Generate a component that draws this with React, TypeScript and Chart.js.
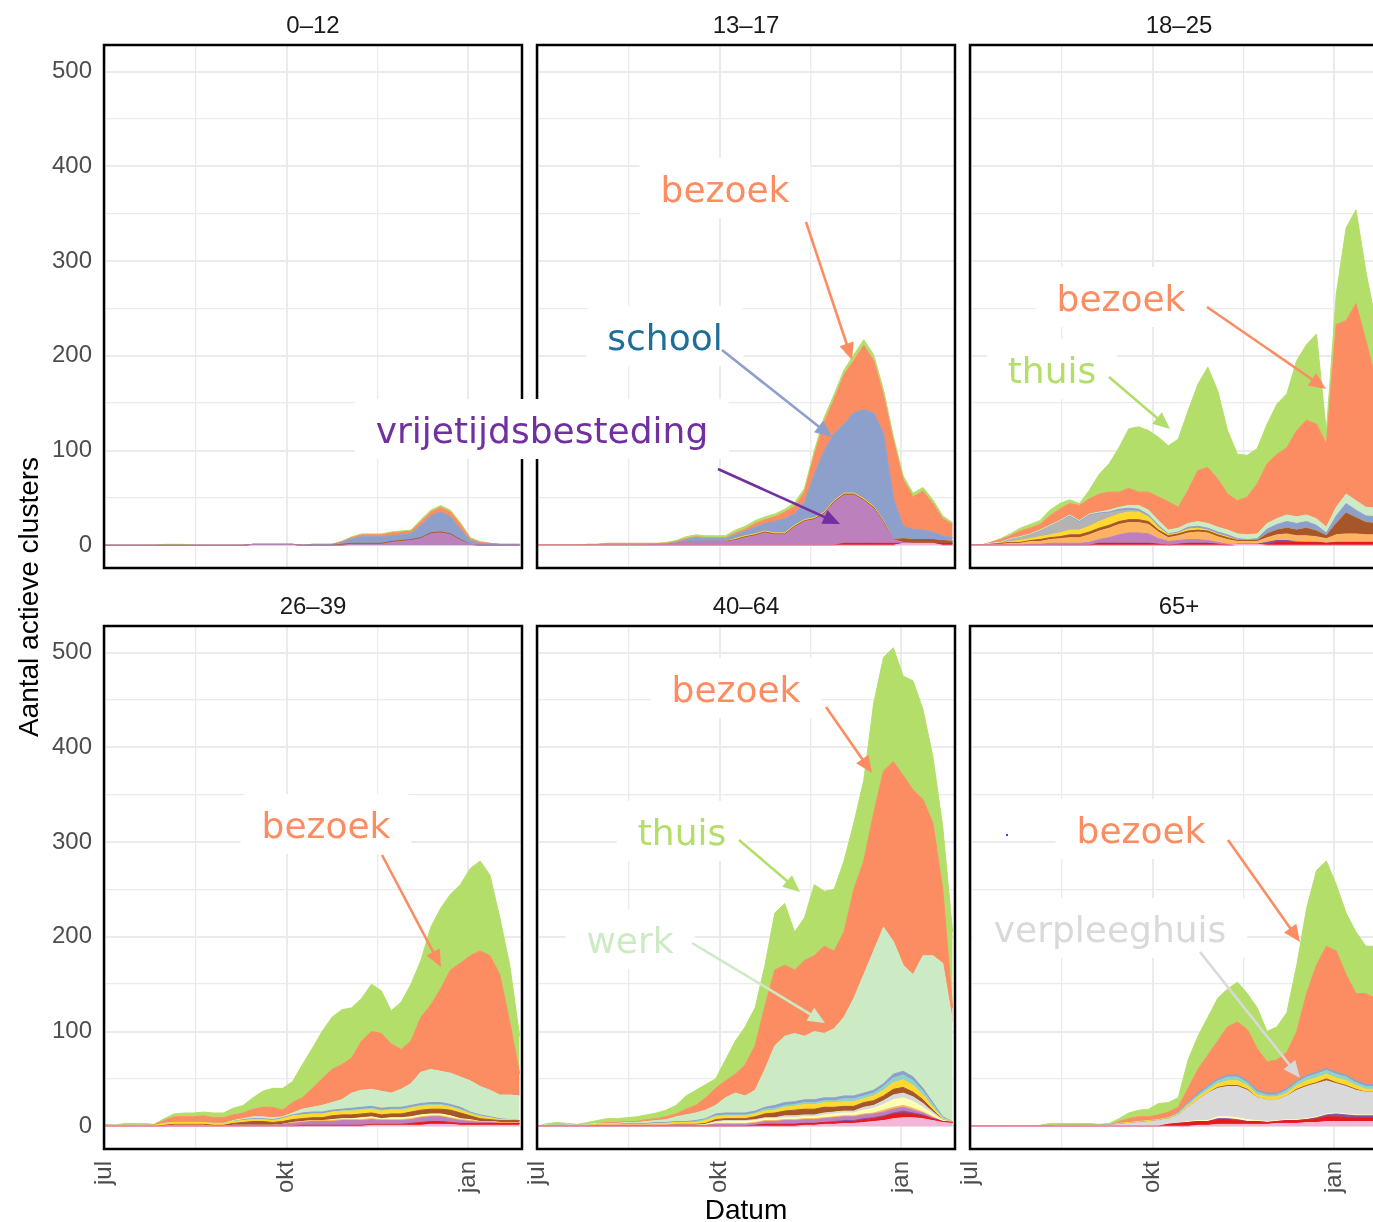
import React, { useEffect, useRef } from 'react';
import { Chart, registerables } from 'chart.js';

Chart.register(...registerables);

// ---------- data ----------
// day index since 1 July (0 = 1 jul, 92 = 1 okt, 184 = 1 jan)
const DAYS = [0,5,10,15,20,25,30,35,40,45,50,55,60,65,70,75,80,85,90,95,100,105,110,115,120,125,130,135,140,145,150,155,160,165,170,175,180,185,190,195,200,205,210];
const X_TICKS = [0, 46, 92, 138, 184];
const X_TICK_LABELS: Record<number, string> = { 0: 'jul', 92: 'okt', 184: 'jan' };
const Y_TICKS = [0, 50, 100, 150, 200, 250, 300, 350, 400, 450, 500];
const PANEL_TITLES = ['0–12', '13–17', '18–25', '26–39', '40–64', '65+'];

const SERIES_KEYS = ['zorg','ziekenhuis','overig','vrijetijdsbesteding','horeca','religie','verpleeghuis','feest','sport','studentenhuis','kinderopvang','school','werk','bezoek','thuis'];
const SERIES_COLORS = ['#F5B5D8','#E41A1C','#8A4EA5','#BC80BD','#FDB462','#FFFFB3','#D9D9D9','#A65628','#FFD92F','#B3B3B3','#8DD3C7','#8DA0CB','#CCEBC5','#FC8D62','#B3DE69'];

// 0–12
const THUIS_0_12 = [0,0,0,0,0,0,1,1,1,0, 0,0,0,0,0,0,0,0,0,0, 0,0,0,0,0,1,1,1,1,1, 1,1,2,2,2,2,2,1,1,0, 0,0,0];
const BEZOEK_0_12 = [0,0,0,0,0,0,0,0,0,0, 0,0,0,0,0,0,0,0,0,0, 0,0,0,0,1,1,2,2,2,3, 3,3,4,4,5,5,5,2,1,0, 0,0,0];
const SCHOOL_0_12 = [0,0,0,0,0,0,0,0,0,0, 0,0,0,0,0,0,0,0,0,0, 0,1,1,1,2,5,7,7,7,6, 6,6,13,18,21,18,11,4,2,2, 1,1,1];
const VRIJE_0_12 = [0,0,0,0,0,0,0,0,0,0, 0,0,0,0,0,1,1,1,1,1, 0,0,0,0,0,1,1,1,1,3, 4,5,7,12,13,11,5,1,0,0, 0,0,0];
const FEEST_0_12 = [0,0,0,0,0,0,0,0,0,0, 0,0,0,0,0,0,0,0,0,0, 0,0,0,0,1,1,1,1,1,1, 1,1,1,1,1,1,1,0,0,0, 0,0,0];

// 13–17
const ZORG_13_17 = [0,0,0,0,0,0,0,0,0,0, 0,0,0,0,0,0,0,0,0,0, 0,0,0,0,0,0,0,0,0,0, 0,0,0,0,0,0,0,2,2,2, 2,0,0];
const ZIEKENHUIS_13_17 = [0,0,0,0,0,0,0,0,0,0, 0,0,0,0,0,0,0,0,0,0, 0,0,0,0,0,0,0,0,0,0, 0,2,2,2,2,2,2,0,0,0, 0,2,2];
const VRIJE_13_17 = [0,0,0,0,0,0,0,0,0,0, 0,0,1,1,2,3,4,4,4,4, 5,8,10,13,11,11,19,25,27,33, 45,51,51,45,37,22,4,1,0,0, 0,0,0];
const FEEST_13_17 = [0,0,0,0,0,0,0,0,0,0, 0,0,0,0,0,0,0,0,0,0, 1,1,1,1,1,1,1,1,1,1, 1,1,1,1,1,1,0,4,4,4, 4,3,2];
const SPORT_13_17 = [0,0,0,0,0,0,0,0,0,0, 0,0,0,0,0,0,0,0,0,0, 1,1,1,1,1,1,1,1,1,1, 1,1,1,1,1,1,0,0,0,0, 0,0,0];
const STUDENT_13_17 = [0,0,0,0,0,0,0,1,1,1, 1,1,0,0,0,0,0,0,0,0, 0,0,0,0,0,0,0,0,0,0, 0,0,0,0,0,0,0,0,0,0, 0,0,0];
const SCHOOL_13_17 = [0,0,0,0,0,0,0,0,0,0, 0,0,0,0,1,3,4,3,3,3, 4,5,7,8,12,15,12,18,46,65, 71,73,85,94,99,92,44,13,11,10, 8,5,4];
const BEZOEK_13_17 = [0,0,0,0,0,1,1,1,1,1, 1,1,1,1,1,1,1,1,1,1, 2,2,4,4,5,7,8,11,20,30, 36,52,55,68,55,40,60,49,34,41, 30,18,14];
const THUIS_13_17 = [0,0,0,0,0,0,0,0,0,0, 0,0,0,1,1,2,2,2,2,2, 3,3,3,3,3,3,4,4,5,5, 5,5,6,6,6,6,5,4,4,4, 4,3,2];

// 18–25
const ZORG_18_25 = [0,0,0,0,0,0,0,0,0,0, 0,0,0,0,0,0,0,0,0,0, 0,0,0,0,0,0,0,1,1,1, 0,0,0,0,0,0,0,0,0,0, 0,0,0];
const ZIEKENHUIS_18_25 = [0,0,0,0,0,0,0,0,0,0, 0,0,0,2,2,2,2,2,2,1, 0,1,2,2,2,1,0,0,0,0, 1,3,3,3,3,3,2,3,3,3, 3,3,3];
const OVERIG_18_25 = [0,0,0,0,0,0,0,0,0,0, 0,0,0,0,0,0,0,0,0,0, 0,0,0,0,0,0,0,0,0,0, 2,2,2,0,0,0,0,0,0,0, 0,0,0];
const VRIJE_18_25 = [0,0,0,0,0,0,1,1,2,2, 2,2,3,4,6,9,11,11,10,6, 4,4,4,4,3,2,1,0,0,0, 0,0,0,1,0,0,0,0,0,0, 0,0,0];
const HORECA_18_25 = [0,0,1,1,2,2,3,3,4,5, 6,6,8,9,10,11,11,11,10,7, 4,5,7,8,8,6,5,3,3,3, 5,6,7,6,7,6,5,8,9,9, 8,8,7];
const FEEST_18_25 = [0,0,0,1,1,1,1,2,2,2, 3,3,3,3,3,3,3,3,3,2, 2,2,2,2,2,2,2,1,1,1, 4,5,6,6,8,6,3,12,22,17, 13,12,10];
const SPORT_18_25 = [0,0,0,0,1,2,2,3,3,4, 5,5,6,7,8,8,8,8,5,3, 1,1,2,2,1,1,1,0,0,0, 0,0,0,0,0,0,0,0,0,0, 0,0,0];
const STUDENT_18_25 = [0,0,0,0,2,3,4,6,9,12, 14,8,11,8,5,3,2,1,0,0, 0,0,0,0,0,0,0,0,0,0, 0,0,0,0,0,0,0,0,0,0, 0,0,0];
const SCHOOL_18_25 = [0,0,0,0,0,0,0,0,0,0, 1,1,1,1,1,2,2,2,2,2, 1,1,2,2,2,2,2,2,1,2, 5,6,7,7,7,6,3,8,10,8, 7,7,6];
const WERK_18_25 = [0,0,1,1,1,1,1,1,1,1, 1,1,1,1,2,2,3,4,5,5, 4,4,4,5,5,5,5,5,5,5, 6,6,7,7,7,7,6,9,10,10, 9,9,9];
const BEZOEK_18_25 = [0,0,1,3,3,6,6,6,10,12, 12,16,16,19,19,16,18,14,19,25, 30,22,35,54,59,51,38,35,40,53, 63,68,71,91,100,100,88,193,183,208, 176,136,125];
const THUIS_18_25 = [0,0,0,1,2,3,4,4,6,6, 4,2,9,21,30,47,63,69,65,63, 59,72,84,91,106,93,67,49,44,37, 42,53,57,74,80,95,13,32,98,99, 73,61,60];

// 26–39
const ZORG_26_39 = [0,0,0,0,0,0,0,0,0,0, 0,0,0,0,0,0,0,0,0,0, 0,0,0,0,0,0,0,1,1,1, 1,1,1,2,2,2,1,1,1,1, 1,1,1];
const ZIEKENHUIS_26_39 = [0,0,0,0,0,0,0,0,0,0, 0,0,0,0,0,0,0,0,0,0, 1,1,1,1,1,1,1,1,1,1, 1,2,3,3,3,2,2,2,2,2, 2,2,2];
const VRIJE_26_39 = [0,0,0,0,0,0,0,0,0,0, 0,0,0,1,1,1,1,1,2,3, 3,4,4,4,5,5,5,5,4,4, 4,4,5,5,5,4,3,2,1,1, 0,0,0];
const HORECA_26_39 = [0,0,0,0,0,0,0,1,1,1, 1,0,0,0,0,0,0,0,0,1, 1,1,1,1,1,1,1,1,1,1, 1,1,1,1,1,1,1,1,1,1, 1,1,1];
const RELIGIE_26_39 = [0,0,0,0,0,0,0,0,0,0, 0,0,0,0,0,0,0,0,0,0, 0,0,0,1,1,1,2,2,1,2, 2,2,2,2,2,2,1,1,0,0, 0,0,0];
const FEEST_26_39 = [0,0,0,0,0,0,1,1,1,1, 1,1,1,2,3,4,4,3,3,3, 3,3,3,4,4,4,4,4,4,4, 4,5,5,5,5,6,6,4,3,2, 2,2,2];
const SPORT_26_39 = [1,1,1,1,1,1,2,2,2,2, 2,2,2,2,2,2,2,2,3,4, 4,4,4,4,4,4,4,4,4,4, 4,4,4,4,4,3,3,2,2,2, 1,1,0];
const KINDER_26_39 = [0,0,0,0,0,0,0,0,0,0, 0,0,0,0,0,0,0,0,0,0, 0,0,0,0,0,1,1,1,1,1, 1,1,1,1,1,1,1,1,1,0, 0,0,0];
const SCHOOL_26_39 = [0,0,0,0,0,0,0,0,0,0, 0,0,0,0,1,1,1,1,1,1, 2,2,2,2,2,2,2,2,2,2, 2,2,2,2,2,2,2,1,1,1, 1,0,0];
const WERK_26_39 = [0,0,0,0,0,0,0,0,0,0, 0,0,0,1,1,2,2,2,1,2, 4,5,7,8,10,16,18,18,18,15, 19,23,33,35,33,33,32,33,30,28, 25,26,26];
const BEZOEK_26_39 = [0,0,0,0,0,1,3,6,6,6, 7,6,6,6,6,8,10,11,7,11, 12,20,28,35,37,37,52,61,61,52, 42,45,58,68,87,109,120,132,143,142, 127,77,23];
const THUIS_26_39 = [1,0,2,2,2,0,2,3,4,4, 4,5,5,7,8,12,17,20,23,22, 35,42,50,55,58,53,45,50,45,35, 50,60,60,82,85,80,83,92,95,85, 60,60,40];

// 40–64
const ZORG_40_64 = [0,0,0,0,0,0,0,0,0,0, 0,0,0,0,0,0,0,0,0,0, 0,0,0,0,0,0,0,1,1,2, 2,3,3,4,5,6,8,9,9,8, 6,4,3];
const ZIEKENHUIS_40_64 = [0,0,0,0,0,0,0,0,0,0, 0,0,0,0,0,0,0,0,0,0, 0,0,1,2,2,2,2,2,2,2, 2,2,2,3,3,4,5,5,4,3, 2,1,1];
const OVERIG_40_64 = [0,0,0,0,0,0,0,0,0,0, 0,0,0,0,0,0,0,0,0,0, 0,0,0,0,0,0,0,0,0,0, 1,1,1,1,1,1,1,2,1,1, 0,0,0];
const VRIJE_40_64 = [0,0,0,0,0,0,1,1,1,1, 1,1,1,1,1,1,1,1,2,2, 2,2,2,3,3,4,4,4,4,4, 4,4,4,4,4,4,4,4,3,2, 1,0,0];
const HORECA_40_64 = [0,0,0,0,0,0,0,0,0,0, 0,0,0,0,0,0,0,0,1,1, 1,1,1,1,1,1,1,1,1,1, 1,1,1,1,1,2,2,2,2,1, 1,0,0];
const RELIGIE_40_64 = [0,0,0,0,0,0,0,0,0,0, 0,0,0,0,0,0,0,1,1,2, 2,2,2,2,2,2,2,2,2,3, 3,3,3,4,5,6,8,8,7,5, 3,1,0];
const VERPLEEG_40_64 = [0,0,0,0,0,0,0,0,0,0, 0,0,0,0,0,0,0,0,1,1, 1,1,1,1,1,2,2,2,2,2, 2,2,2,3,3,4,5,5,5,4, 2,1,0];
const FEEST_40_64 = [0,0,0,0,0,0,0,0,0,0, 0,0,0,0,1,1,1,1,2,2, 2,2,3,4,5,5,6,6,6,6, 5,5,5,5,5,5,6,6,5,4, 2,0,0];
const SPORT_40_64 = [0,1,1,1,1,1,1,1,1,1, 1,1,2,2,2,2,2,3,3,3, 3,3,3,3,3,4,4,5,5,5, 5,5,5,4,5,6,7,8,7,5, 3,1,1];
const KINDER_40_64 = [0,0,1,0,0,0,0,0,0,0, 0,0,0,0,0,0,1,1,1,1, 1,1,1,2,2,2,2,2,2,2, 2,3,3,3,3,4,5,5,5,4, 3,1,0];
const SCHOOL_40_64 = [0,0,0,0,0,0,0,0,0,1, 1,1,1,1,1,1,1,1,2,2, 2,2,2,2,3,3,3,3,3,3, 3,3,3,3,3,3,4,4,4,3, 2,1,0];
const WERK_40_64 = [0,1,0,1,0,1,1,1,1,1, 1,2,2,3,5,7,8,9,9,16, 21,18,22,40,63,70,72,67,72,68, 73,83,103,125,147,165,140,112,108,140, 155,162,105];
const BEZOEK_40_64 = [0,0,0,0,0,0,0,1,1,1, 1,2,2,3,3,6,8,13,18,18, 20,33,47,67,80,75,67,80,80,92, 82,90,115,120,145,165,190,200,195,165, 140,78,15];
const THUIS_40_64 = [0,1,2,1,1,2,3,4,4,4, 5,5,6,7,9,14,16,14,10,22, 35,40,40,43,60,65,40,45,75,58, 65,75,70,85,116,120,120,105,115,95, 70,66,80];

// 65+
const ZORG_65 = [0,0,0,0,0,0,0,0,0,0, 0,0,0,0,0,0,0,0,0,0, 0,0,0,1,1,2,2,2,2,2, 2,3,3,3,4,4,5,5,5,5, 5,5,5];
const ZIEKENHUIS_65 = [0,0,0,0,0,0,0,0,0,0, 0,0,0,0,0,0,0,0,0,0, 2,3,4,4,4,5,5,4,3,3, 2,2,3,3,3,4,5,5,4,4, 4,4,4];
const OVERIG_65 = [0,0,0,0,0,0,0,0,0,0, 0,0,0,0,0,0,0,0,0,0, 0,0,0,0,0,1,1,1,0,0, 0,0,0,0,0,1,2,3,3,2, 2,2,2];
const RELIGIE_65 = [0,0,0,0,0,0,0,0,0,0, 0,0,0,0,0,0,0,0,0,0, 0,0,1,1,1,2,2,2,2,1, 1,1,1,1,1,1,1,1,1,1, 1,1,1];
const VERPLEEG_65 = [0,0,0,0,0,0,0,0,0,1, 1,1,1,1,1,2,3,4,5,6, 6,9,15,22,29,30,32,33,31,24, 23,22,25,31,34,35,35,31,29,26, 24,24,23];
const FEEST_65 = [0,0,0,0,0,0,0,0,0,0, 0,0,0,0,0,0,0,0,0,0, 0,0,0,0,0,1,1,1,1,0, 0,0,0,1,1,1,2,1,1,1, 0,0,0];
const SPORT_65 = [0,0,0,0,0,0,0,0,0,0, 0,0,0,0,0,1,1,1,1,1, 1,1,2,3,3,4,5,5,4,3, 3,3,3,4,5,5,5,5,5,4, 3,3,3];
const KINDER_65 = [0,0,0,0,0,0,0,0,0,0, 0,0,0,0,0,0,0,0,0,0, 0,1,2,2,3,3,4,4,3,3, 2,2,3,3,4,4,4,4,4,3, 3,3,3];
const SCHOOL_65 = [0,0,0,0,0,0,0,0,0,0, 0,0,0,0,0,0,0,0,0,0, 0,1,1,2,2,2,2,2,2,2, 2,2,2,2,2,2,2,2,2,2, 2,2,2];
const BEZOEK_65 = [0,0,0,0,0,0,0,0,1,0, 0,0,0,0,0,2,4,5,4,5, 6,5,15,25,32,40,51,56,54,44, 33,35,38,52,86,113,129,128,106,92, 96,91,87];
const THUIS_65 = [0,0,0,0,0,0,0,1,2,2, 2,2,2,1,2,3,6,7,8,12, 10,10,30,35,40,45,40,42,38,43, 32,35,42,70,90,100,90,70,65,65, 50,55,55];

type SeriesMap = Record<string, number[]>;
const PANEL_SERIES: SeriesMap[] = [
  { feest: FEEST_0_12, vrijetijdsbesteding: VRIJE_0_12, school: SCHOOL_0_12, bezoek: BEZOEK_0_12, thuis: THUIS_0_12 },
  { zorg: ZORG_13_17, ziekenhuis: ZIEKENHUIS_13_17, vrijetijdsbesteding: VRIJE_13_17, feest: FEEST_13_17, sport: SPORT_13_17, studentenhuis: STUDENT_13_17, school: SCHOOL_13_17, bezoek: BEZOEK_13_17, thuis: THUIS_13_17 },
  { zorg: ZORG_18_25, ziekenhuis: ZIEKENHUIS_18_25, overig: OVERIG_18_25, vrijetijdsbesteding: VRIJE_18_25, horeca: HORECA_18_25, feest: FEEST_18_25, sport: SPORT_18_25, studentenhuis: STUDENT_18_25, school: SCHOOL_18_25, werk: WERK_18_25, bezoek: BEZOEK_18_25, thuis: THUIS_18_25 },
  { zorg: ZORG_26_39, ziekenhuis: ZIEKENHUIS_26_39, vrijetijdsbesteding: VRIJE_26_39, horeca: HORECA_26_39, religie: RELIGIE_26_39, feest: FEEST_26_39, sport: SPORT_26_39, kinderopvang: KINDER_26_39, school: SCHOOL_26_39, werk: WERK_26_39, bezoek: BEZOEK_26_39, thuis: THUIS_26_39 },
  { zorg: ZORG_40_64, ziekenhuis: ZIEKENHUIS_40_64, overig: OVERIG_40_64, vrijetijdsbesteding: VRIJE_40_64, horeca: HORECA_40_64, religie: RELIGIE_40_64, verpleeghuis: VERPLEEG_40_64, feest: FEEST_40_64, sport: SPORT_40_64, kinderopvang: KINDER_40_64, school: SCHOOL_40_64, werk: WERK_40_64, bezoek: BEZOEK_40_64, thuis: THUIS_40_64 },
  { zorg: ZORG_65, ziekenhuis: ZIEKENHUIS_65, overig: OVERIG_65, religie: RELIGIE_65, verpleeghuis: VERPLEEG_65, feest: FEEST_65, sport: SPORT_65, kinderopvang: KINDER_65, school: SCHOOL_65, bezoek: BEZOEK_65, thuis: THUIS_65 },
];

// annotations: label text, colours, text centre x / baseline y, arrow start & tip
const ANNOTATIONS = [
  { text: 'bezoek', color: '#FC8D62', arrow: '#FC8D62', x: 725, y: 202, a: [806, 222, 852, 360] },
  { text: 'school', color: '#1F6E99', arrow: '#8DA0CB', x: 665, y: 350, a: [722, 350, 832, 437] },
  { text: 'vrijetijdsbesteding', color: '#7030A0', arrow: '#7030A0', x: 542, y: 443, a: [718, 469, 840, 524] },
  { text: 'bezoek', color: '#FC8D62', arrow: '#FC8D62', x: 1121, y: 311, a: [1207, 307, 1326, 389] },
  { text: 'thuis', color: '#B3DE69', arrow: '#B3DE69', x: 1052, y: 383, a: [1109, 377, 1170, 429] },
  { text: 'bezoek', color: '#FC8D62', arrow: '#FC8D62', x: 326, y: 838, a: [382, 855, 441, 967] },
  { text: 'bezoek', color: '#FC8D62', arrow: '#FC8D62', x: 736, y: 702, a: [826, 707, 872, 773] },
  { text: 'thuis', color: '#B3DE69', arrow: '#B3DE69', x: 682, y: 845, a: [739, 840, 800, 892] },
  { text: 'werk', color: '#CCEBC5', arrow: '#CCEBC5', x: 630, y: 953, a: [692, 943, 825, 1023] },
  { text: 'bezoek', color: '#FC8D62', arrow: '#FC8D62', x: 1141, y: 843, a: [1228, 840, 1300, 942] },
  { text: 'verpleeghuis', color: '#D9D9D9', arrow: '#D9D9D9', x: 1110, y: 942, a: [1200, 952, 1300, 1078] },
];
// approximate advance widths (em) of DejaVu Sans for box sizing
const EM_WIDTHS: Record<string, number> = { bezoek: 3.581, school: 3.207, vrijetijdsbesteding: 9.238, thuis: 2.459, werk: 2.423, verpleeghuis: 6.463 };

// ---------- layout ----------
const COL_LEFTS = [104, 537, 970];
const ROW_TOPS = [45, 626];
const PANEL_W = 418;
const PANEL_H = 523;
const Y_AXIS_W = 104;
const TOP_SPACE = 45;
const SANS = "'Liberation Sans', Arial, Helvetica, sans-serif";

const panelDecor = {
  id: 'panelDecor',
  afterDraw(chart: any, _args: any, opts: any) {
    const { ctx, chartArea: a } = chart;
    ctx.save();
    ctx.strokeStyle = '#000';
    ctx.lineWidth = 2.5;
    ctx.strokeRect(a.left, a.top, a.right - a.left, a.bottom - a.top);
    ctx.fillStyle = '#1A1A1A';
    ctx.font = `24px ${SANS}`;
    ctx.textAlign = 'center';
    ctx.textBaseline = 'alphabetic';
    ctx.fillText(opts.title, (a.left + a.right) / 2, a.top - 12);
    ctx.restore();
  },
};

function Panel({ idx }: { idx: number }) {
  const ref = useRef<HTMLCanvasElement>(null);
  const col = idx % 3;
  const row = Math.floor(idx / 3);
  const bottomSpace = row === 1 ? 60 : 10;
  const W = Y_AXIS_W + PANEL_W + 10;
  const H = TOP_SPACE + PANEL_H + bottomSpace;

  useEffect(() => {
    const series = PANEL_SERIES[idx];
    const datasets: any[] = [];
    SERIES_KEYS.forEach((key, k) => {
      const vals = series[key];
      if (!vals) return;
      datasets.push({
        label: key,
        data: DAYS.map((d, j) => ({ x: d, y: vals[j] })),
        backgroundColor: SERIES_COLORS[k],
        borderColor: SERIES_COLORS[k],
        borderWidth: 1,
        pointRadius: 0,
        tension: 0,
        fill: datasets.length === 0 ? 'origin' : '-1',
      });
    });
    const tickFont = { family: SANS, size: 24 };
    const chart = new Chart(ref.current as HTMLCanvasElement, {
      type: 'line',
      data: { datasets },
      plugins: [panelDecor],
      options: {
        responsive: false,
        animation: false,
        devicePixelRatio: 1,
        events: [],
        layout: { padding: { left: 0, top: TOP_SPACE, right: 10, bottom: row === 1 ? 0 : 10 } },
        plugins: {
          legend: { display: false },
          tooltip: { enabled: false },
          panelDecor: { title: PANEL_TITLES[idx] },
        } as any,
        scales: {
          x: {
            type: 'linear',
            min: -0.4,
            max: 211.2,
            afterBuildTicks: (s: any) => { s.ticks = X_TICKS.map((v) => ({ value: v })); },
            afterFit: (s: any) => {
              s.height = row === 1 ? 60 : 0;
              s.paddingLeft = 0;
              s.paddingRight = 0;
              s.paddingTop = 0;
              s.paddingBottom = 0;
            },
            grid: {
              color: '#EBEBEB',
              lineWidth: (c: any) => (c.tick && X_TICK_LABELS[c.tick.value] ? 2 : 1.3),
              drawTicks: false,
            },
            border: { display: false },
            ticks: {
              display: row === 1,
              autoSkip: false,
              minRotation: 90,
              maxRotation: 90,
              padding: 12,
              color: '#4D4D4D',
              font: tickFont,
              callback: (v: any) => X_TICK_LABELS[v] ?? '',
            },
          },
          y: {
            type: 'linear',
            stacked: true,
            min: -24,
            max: 528,
            afterBuildTicks: (s: any) => { s.ticks = Y_TICKS.map((v) => ({ value: v })); },
            afterFit: (s: any) => {
              s.width = Y_AXIS_W;
              s.paddingTop = 0;
              s.paddingBottom = 0;
              s.paddingLeft = 0;
              s.paddingRight = 0;
            },
            grid: {
              color: '#EBEBEB',
              lineWidth: (c: any) => (c.tick && c.tick.value % 100 === 0 ? 2 : 1.3),
              drawTicks: false,
            },
            border: { display: false },
            ticks: {
              display: col === 0,
              padding: 12,
              color: '#4D4D4D',
              font: tickFont,
              callback: (v: any) => (v % 100 === 0 ? String(v) : ''),
            },
          },
        },
      } as any,
    });
    return () => chart.destroy();
  }, [idx]);

  return (
    <canvas
      ref={ref}
      width={W}
      height={H}
      style={{ position: 'absolute', left: COL_LEFTS[col] - Y_AXIS_W, top: ROW_TOPS[row] - TOP_SPACE, width: W, height: H }}
    />
  );
}

function Arrow({ a, color }: { a: number[]; color: string }) {
  const [x1, y1, x2, y2] = a;
  const dx = x2 - x1;
  const dy = y2 - y1;
  const len = Math.sqrt(dx * dx + dy * dy);
  const ux = dx / len;
  const uy = dy / len;
  const hl = 17;
  const hw = 7.5;
  const bx = x2 - ux * hl;
  const by = y2 - uy * hl;
  const pts = `${x2},${y2} ${bx - uy * hw},${by + ux * hw} ${bx + uy * hw},${by - ux * hw}`;
  return (
    <g>
      <line x1={x1} y1={y1} x2={bx + ux * 2} y2={by + uy * 2} stroke={color} strokeWidth={2.6} />
      <polygon points={pts} fill={color} />
    </g>
  );
}

export default function App() {
  return (
    <div style={{ position: 'absolute', left: 0, top: 0, width: 1373, height: 1222, overflow: 'hidden', background: '#fff' }}>
      {PANEL_TITLES.map((_, i) => (
        <Panel key={i} idx={i} />
      ))}
      <svg width={1373} height={1222} style={{ position: 'absolute', left: 0, top: 0, pointerEvents: 'none' }}>
        {ANNOTATIONS.map((an, i) => {
          const w = (EM_WIDTHS[an.text] || 4) * 36;
          return (
            <rect key={'b' + i} x={an.x - w / 2 - 21} y={an.y - 44} width={w + 42} height={60} rx={6} fill="#fff" />
          );
        })}
        {ANNOTATIONS.map((an, i) => (
          <Arrow key={'a' + i} a={an.a} color={an.arrow} />
        ))}
        {ANNOTATIONS.map((an, i) => (
          <text key={'t' + i} x={an.x} y={an.y} textAnchor="middle" fontFamily="'DejaVu Sans', Verdana, sans-serif" fontSize={36} fill={an.color}>
            {an.text}
          </text>
        ))}
        <rect x={1006} y={834} width={2} height={2} fill="#3B3BFF" />
        <text transform="translate(38,597) rotate(-90)" textAnchor="middle" fontFamily={SANS} fontSize={28} fill="#000">
          Aantal actieve clusters
        </text>
        <text x={746} y={1219} textAnchor="middle" fontFamily={SANS} fontSize={28} fill="#000">
          Datum
        </text>
      </svg>
    </div>
  );
}
